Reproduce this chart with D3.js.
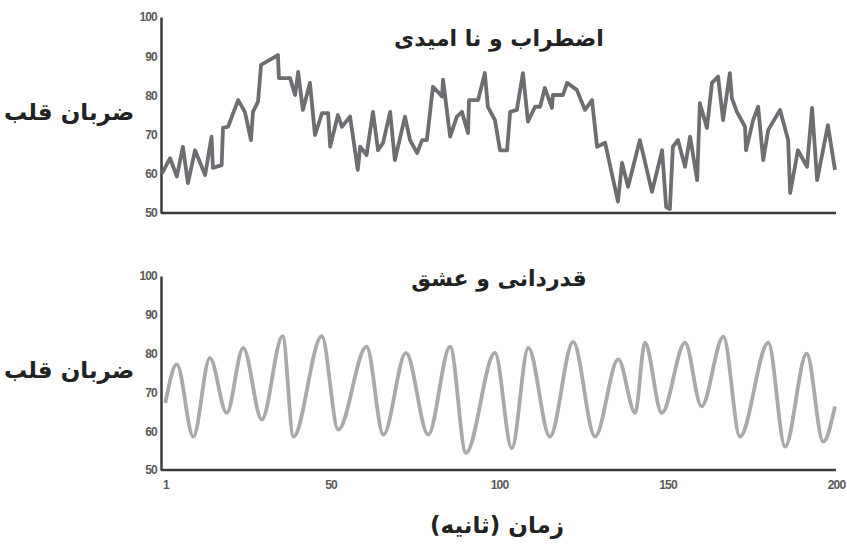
<!DOCTYPE html>
<html><head><meta charset="utf-8">
<script src="https://cdn.jsdelivr.net/npm/d3@7"></script>
<style>body{margin:0;background:#fff}svg{display:block}</style>
</head><body>
<script>
const xTicks = [1, 50, 100, 150, 200];
const yTicks = [50, 60, 70, 80, 90, 100];
const titleTop = "اضطراب و نا امیدی";
const titleBottom = "قدردانی و عشق";
const yLabel = "ضربان قلب";
const xLabel = "زمان (ثانیه)";

const anxietyTime = [0,2.4,4.4,6.2,7.7,9.8,12.8,14.7,15.1,17.7,18.1,19.6,22.6,24.6,26.4,27,28.5,29.4,34.4,34.7,38,39.5,40.4,41.8,43.9,45.4,47.5,49.3,49.9,52.2,53.4,55.8,58.1,58.8,60.7,62.6,64.1,65.6,67.7,69.1,72.1,73.6,75.7,77.2,78.6,80.4,83.1,83.4,85.5,87.5,89,90.8,91.1,93.8,95.8,96.7,98.8,100.3,102.4,103.3,105.3,107.1,108.6,110.7,112.2,113.6,115.7,116,119,120.2,123.1,125.5,127.6,129.1,131.5,135.3,136.5,138.3,141.8,145.4,148.4,149.6,150.7,151.6,153.1,155.2,156.7,158.8,159.6,161.7,163.2,165,166.5,168.5,169.1,170.6,173,173.3,175.4,176.9,178.4,179.9,183.4,185.8,186.4,188.7,191.4,192.9,194.4,197.6,199.7];
const anxietyHR = [60.1,64,59.3,66.9,57.6,66,59.7,69.5,61.5,62.2,71.7,72,78.8,75.8,68.6,75.8,78.4,87.8,90.3,84.4,84.4,80.1,86,76.3,83.2,69.9,75.5,75.5,66.9,75,72,74.6,61,66.9,64.8,75.8,66,67.9,75.8,63.5,74.6,68.6,65.3,68.6,68.6,82.2,79.7,84,69.5,74.6,75.8,70.4,78.8,78.8,85.7,77.1,73.7,66,66,75.8,76.3,85.7,73.3,77.1,77.1,81.9,76.8,80.1,80.1,83.2,81.4,76.3,78.8,66.9,67.9,52.9,62.8,56.7,68.6,55.4,66,51.5,51,66.9,68.6,61.8,69.5,58.4,78,71.7,83.2,84.8,73.7,85.7,79.3,75.8,72,66,73.7,77.1,63.5,71.2,76.3,68.6,55.1,66,61.8,76.8,58.4,72.4,61];

const gratitudeTime = [1,4.4,9.3,14.2,19.2,24.1,29.6,35.8,39,47.4,52.3,60.7,65.7,72.4,79,85.5,90.2,98.8,103.8,108.7,115.1,122,128.5,135.4,140.4,143.3,148.3,155.2,160.1,166.6,171.5,179.9,184.9,191.3,196.2,199.7];
const gratitudeHR = [67.3,77.2,58.6,78.9,64.7,81.5,63,84.5,58.6,84.5,60.4,81.8,59.1,80.2,59.1,81.8,54.4,80.2,55.6,81.5,58.6,83,58.6,78.5,64.7,82.8,64.7,82.8,66.4,84.4,58.6,82.8,56,80,57.3,66.4];

const W = 847, H = 549;
const svg = d3.select("body").append("svg").attr("width", W).attr("height", H);
const x = d3.scaleLinear().domain([0, 200]).range([162, 836]);
const arabicFont = "'DejaVu Sans', 'Noto Sans', sans-serif";
const tickFont = "'Liberation Sans', Arial, sans-serif";
const axisColor = "#3c3c3c";

function styleTicks(sel) {
  sel.selectAll("text").attr("font-family", tickFont).attr("font-weight", "bold")
    .attr("font-size", 12).attr("fill", "#5a5a5a").attr("letter-spacing", -0.8);
}

function panel(top, bottom, times, vals, color, curve, title, titleY, showX) {
  const y = d3.scaleLinear().domain([50, 100]).range([bottom, top]);
  const g = svg.append("g");
  const ya = g.append("g").attr("transform", "translate(161,0)")
    .call(d3.axisLeft(y).tickValues(yTicks).tickSize(0).tickPadding(4));
  ya.select(".domain").attr("stroke", axisColor).attr("stroke-width", 2.5);
  styleTicks(ya);
  const xa = g.append("g").attr("transform", `translate(0,${bottom})`)
    .call(d3.axisBottom(x).tickValues(showX ? xTicks : []).tickSize(0).tickPadding(10));
  xa.select(".domain").attr("stroke", axisColor).attr("stroke-width", 2.5)
    .attr("d", `M161,0H836`);
  styleTicks(xa);
  const data = times.map((t, i) => [t, vals[i]]);
  const line = d3.line().x(d => x(d[0])).y(d => y(d[1])).curve(curve);
  g.append("path").datum(data).attr("d", line).attr("fill", "none")
    .attr("stroke", color).attr("stroke-width", 3.8).attr("stroke-linejoin", "round");
  g.append("text").attr("x", 499).attr("y", titleY).attr("text-anchor", "middle")
    .attr("font-family", arabicFont).attr("font-weight", "bold").attr("font-size", 22).attr("fill", "#222")
    .attr("direction", "rtl").text(title);
  g.append("text").attr("x", 69).attr("y", (top + bottom) / 2 + 5).attr("text-anchor", "middle")
    .attr("font-family", arabicFont).attr("font-weight", "bold").attr("font-size", 23).attr("fill", "#222")
    .attr("direction", "rtl").text(yLabel);
}

panel(17, 213, anxietyTime, anxietyHR, "#6d6e71", d3.curveLinear, titleTop, 46, false);
panel(276, 470, gratitudeTime, gratitudeHR, "#a7a9ac", d3.curveMonotoneX, titleBottom, 286, true);

svg.append("text").attr("x", 497).attr("y", 533).attr("text-anchor", "middle")
  .attr("font-family", arabicFont).attr("font-weight", "bold").attr("font-size", 23).attr("fill", "#222")
  .attr("direction", "rtl").text(xLabel);
</script>
</body></html>
